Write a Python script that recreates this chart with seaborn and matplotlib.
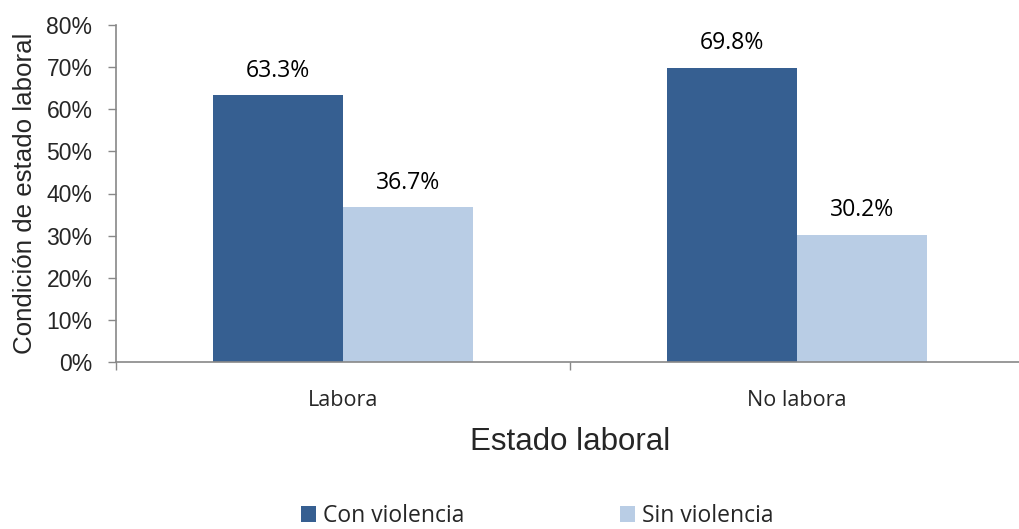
import pandas as pd
import matplotlib.pyplot as plt
import seaborn as sns
from matplotlib.patches import Patch

# Datos del gráfico
categorias = ["Labora", "No labora"]
con_violencia = [63.3, 69.8]
sin_violencia = [36.7, 30.2]
series = ["Con violencia", "Sin violencia"]
colores = ["#365F91", "#B9CDE5"]

df = pd.DataFrame({
    "estado": categorias * 2,
    "grupo": [series[0]] * 2 + [series[1]] * 2,
    "valor": con_violencia + sin_violencia,
})

sns.set_style("white")
plt.rcParams["font.family"] = ["Liberation Sans", "DejaVu Sans"]
fuente_calibri = ["Open Sans", "DejaVu Sans"]

fig = plt.figure(figsize=(10.19, 5.29), dpi=100)
ax = fig.add_axes([116 / 1019, 1 - 362 / 529, 908 / 1019, 337 / 529])

sns.barplot(data=df, x="estado", y="valor", hue="grupo", palette=colores,
            width=0.573, gap=0, saturation=1, linewidth=0, ax=ax, legend=False)

# Etiquetas de valores sobre las barras
for cont in ax.containers:
    for bar in cont:
        h = bar.get_height()
        ax.annotate(f"{h:.1f}%", (bar.get_x() + bar.get_width() / 2, h),
                    xytext=(0, 13.5), textcoords="offset points",
                    ha="center", va="baseline", fontsize=16.6, color="black",
                    family=fuente_calibri)

ax.set_ylim(0, 80)
ax.set_xlim(-0.5, 1.5)
ax.set_yticks(range(0, 81, 10))
ax.set_yticklabels([f"{v}%" for v in range(0, 81, 10)], fontsize=16.5)
ax.set_xticks([0, 1])
ax.set_xticklabels(categorias, fontsize=15.5, family=fuente_calibri)
ax.tick_params(axis="x", length=0, pad=20)
ax.tick_params(axis="y", length=6, width=1, color="#888888", direction="out", pad=11, left=True)
# marcas de separación entre categorías
ax.set_xticks([-0.5, 0.5, 1.5], minor=True)
ax.tick_params(axis="x", which="minor", length=6, width=1, color="#888888", direction="out", bottom=True)

ax.set_xlabel("Estado laboral", fontsize=22.5, labelpad=12)
ax.set_ylabel("Condición de estado laboral", fontsize=18.6, labelpad=7)

sns.despine(ax=ax)
for s in ["left", "bottom"]:
    ax.spines[s].set_color("#888888")
    ax.spines[s].set_linewidth(1.2)

handles = [Patch(facecolor=c, edgecolor="none") for c in colores]
fig.legend(handles, series, loc="center", bbox_to_anchor=(537 / 1019, 1 - 516 / 529),
           ncol=2, frameon=False, handlelength=0.65, handleheight=0.65,
           handletextpad=0.3, columnspacing=6.8,
           prop={"family": fuente_calibri, "size": 16.5})

fig.savefig("out.png", dpi=100)
